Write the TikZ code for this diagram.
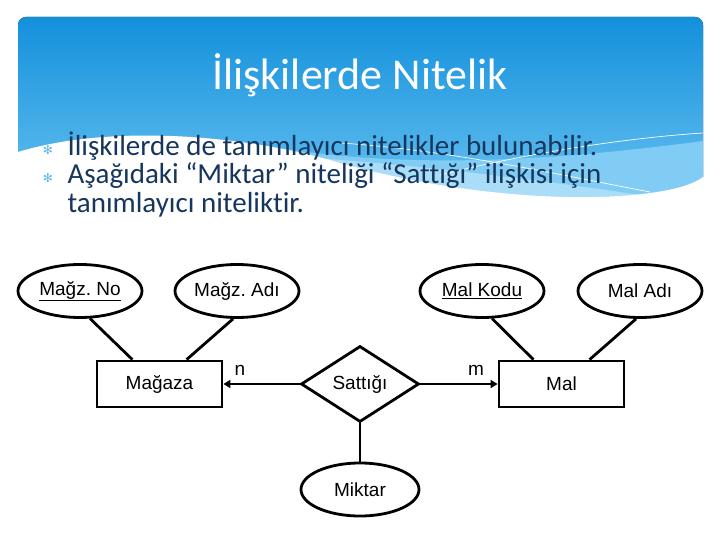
\documentclass[tikz,border=0pt]{standalone}
\usepackage{fontspec}
\setmainfont{Carlito}[Ligatures={NoCommon}]
\newfontfamily\erfont{Liberation Sans}
\newfontfamily\symfont{DejaVu Sans}
\usetikzlibrary{arrows.meta, positioning, shapes.geometric}
\frenchspacing

\definecolor{skytop}{HTML}{1390DB}
\definecolor{skybot}{HTML}{6CC4F2}
\definecolor{skyband}{HTML}{80CCF4}
\definecolor{skypale}{HTML}{A9DDF8}
\definecolor{navytext}{HTML}{17365D}
\definecolor{bulletblue}{HTML}{5AB6E8}

\tikzset{
  attr/.style={ellipse, draw, line width=2.8pt, minimum width=124pt, minimum height=53pt,
    inner sep=0pt, font=\erfont\fontsize{19}{21}\selectfont},
  entity/.style={rectangle, draw, line width=2.8pt, minimum width=125pt, minimum height=46pt,
    inner sep=0pt, font=\erfont\fontsize{19}{21}\selectfont},
  relation/.style={diamond, draw, line width=2.8pt, minimum width=118pt, minimum height=76pt,
    inner sep=0pt, font=\erfont\fontsize{19}{21}\selectfont},
  erline/.style={line width=2.8pt},
  erarrow/.style={line width=2.8pt, -{Triangle[length=7pt,width=8pt]}},
  card/.style={font=\erfont\fontsize{19}{21}\selectfont},
  bullettext/.style={anchor=base west, text=navytext, font=\fontsize{29}{29}\selectfont},
  bulletmark/.style={text=bulletblue, font=\symfont\fontsize{12}{12}\selectfont}
}

\begin{document}
\begin{tikzpicture}[x=1pt, y=-1pt]

\useasboundingbox (0,0) rectangle (720,540);
\fill[white] (0,0) rectangle (720,540);

% title band
\fill[top color=skytop, bottom color=skybot, rounded corners=8pt] (18,17) rectangle (703,212);
\fill[skyband] (250,143) .. controls (400,172) and (560,160) .. (703,141) -- (703,212) -- (250,212) -- cycle;
\fill[skypale] (300,157) .. controls (420,165) and (540,180) .. (640,195) -- (300,212) -- cycle;
\fill[white] (18,152) .. controls (110,124) and (240,135) .. (330,160)
  .. controls (430,190) and (560,205) .. (650,193)
  .. controls (680,189) and (695,183) .. (703,177) -- (720,177) -- (720,230) -- (0,230) -- (0,152) -- cycle;
\draw[white, line width=0.7pt] (340,143) .. controls (450,150) and (560,175) .. (650,192);
\draw[white, line width=0.7pt] (440,175) .. controls (540,150) and (640,137) .. (703,133);

\node[anchor=base, text=white, font=\fontsize{44}{44}\selectfont] (ttl) at (360,90) {İlişkilerde Nitelik};

\node[bulletmark] (b1) at (48,150) {✻};
\node[bullettext] (t1) at (64,156) {İlişkilerde de tanımlayıcı nitelikler bulunabilir.};
\node[bulletmark] (b2) at (48,178) {✻};
\node[bullettext] (t2) at (64,184) {Aşağıdaki “Miktar” niteliği “Sattığı” ilişkisi için};
\node[bullettext] (t3) at (64,212) {tanımlayıcı niteliktir.};

% ER diagram
\node[attr] (mno) at (80,291) {\underline{Mağz. No}};
\node[attr] (mad) at (237,291) {Mağz. Adı};
\node[attr] (mkod) at (482,291) {\underline{Mal Kodu}};
\node[attr] (madi) at (640,291) {Mal Adı};

\node[entity] (mag) at (159.5,384) {Mağaza};
\node[entity] (mal) at (561.5,384) {Mal};
\node[relation] (sat) at (360,384) {Sattığı};
\node[attr, minimum width=118pt] (mik) at (360,489.5) {Miktar};

\draw[erline] (mno.-70) -- (mag.138);
\draw[erline] (mad.-98) -- (mag.42);
\draw[erline] (mkod.-70) -- (mal.139);
\draw[erline] (madi.-98) -- (mal.41);

\draw[erarrow] (sat.west) -- (mag.east);
\draw[erarrow] (sat.east) -- (mal.west);
\draw[erline] (sat.south) -- (mik.north);

\node[card] (cn) at (240,370) {n};
\node[card] (cm) at (476,370) {m};

\end{tikzpicture}
\end{document}
